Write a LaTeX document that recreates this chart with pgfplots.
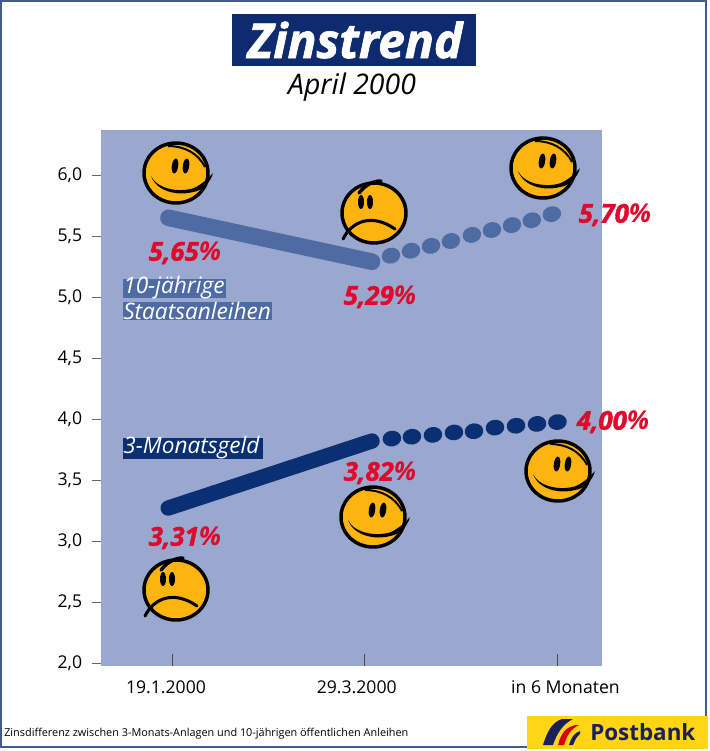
\documentclass[border=0pt]{standalone}
\usepackage{pgfplots}
\usepackage{fontspec}
\usepackage{graphicx}
\pgfplotsset{compat=1.18}
\setmainfont{Open Sans}
\newfontface\heavy[FakeBold=1.5]{Open Sans Bold Italic}
\newfontface\pct{Open Sans Bold Italic}
\definecolor{plotbg}{HTML}{9AA8CF}
\definecolor{lineA}{HTML}{4F6BA3}
\definecolor{lineB}{HTML}{0A2F72}
\definecolor{redlab}{HTML}{DF0A2C}
\definecolor{navy}{HTML}{0D2B6E}
\definecolor{sun}{HTML}{FDB40F}
\definecolor{framec}{HTML}{3F5C8C}
\definecolor{logoy}{HTML}{FFD514}
\definecolor{logon}{HTML}{1B1F5E}
\pgfdeclareplotmark{blob}{%
  \pgfpathellipse{\pgfpointorigin}{\pgfqpoint{7.0pt}{0pt}}{\pgfqpoint{0pt}{5.9pt}}%
  \pgfusepathqfill}
\newcommand{\fs}[1]{\fontsize{#1}{#1}\selectfont}
\newcommand{\faceoutline}{%
  \fill[sun] (0,0) ellipse (31 and 29);
  \draw[black,line width=2.6pt] (0,0) ellipse (32 and 30);
}
\newcommand{\smiley}[2]{\begin{scope}[shift={(#1,#2)},x=.75pt,y=.75pt]
  \faceoutline
  \draw[black,line width=1.5pt] (-8,27) .. controls (8,27) and (22,20) .. (29,6);
  \fill[black,rotate around={-8:(-1,7)}] (-1,7) ellipse (3.2 and 7.5);
  \fill[black,rotate around={-8:(10,7)}] (10,7) ellipse (3.2 and 7.5);
  \fill[black] (-25,-3) .. controls (-19,-16) and (3,-20) .. (18,-15)
     .. controls (26,-11) and (32,-6) .. (37,0)
     .. controls (34,-11) and (25,-18) .. (17,-19)
     .. controls (2,-23) and (-19,-19) .. (-25,-3) -- cycle;
  \end{scope}}
\newcommand{\frowny}[2]{\begin{scope}[shift={(#1,#2)},x=.75pt,y=.75pt]
  \faceoutline
  \draw[black,line width=2.6pt,line cap=round] (-15,20) .. controls (-8,29) and (0,32) .. (7,32);
  \fill[black] (-13,11) ellipse (3 and 7);
  \fill[black] (-4,11) ellipse (3 and 7);
  \draw[black,line width=2.3pt,line cap=round] (-31,-26) .. controls (-22,-8) and (-2,0) .. (21,-16);
  \end{scope}}
\newcommand{\val}[3]{\node[redlab,inner sep=0] at (#1,#2) {\heavy\fs{19.5}#3{\pct\%}};}
\begin{document}
\begin{tikzpicture}
\useasboundingbox (0,0) rectangle (532.5pt,-563.25pt);
\begin{axis}[
  at={(75.375pt,-499.5pt)},anchor=south west,
  scale only axis,width=376.1pt,height=402pt,
  xmin=-0.371,xmax=2.231,ymin=1.975,ymax=6.37,
  clip=false,
  axis background/.style={fill=plotbg},
  axis line style={draw=none},
  xtick={0,1,2},xticklabels={{19.1.2000\hspace*{9pt}},{29.3.2000\hspace*{12pt}},{\hspace*{12pt}in 6 Monaten}},
  ytick={2,2.5,3,3.5,4,4.5,5,5.5,6},
  yticklabels={{2,0},{2,5},{3,0},{3,5},{4,0},{4,5},{5,0},{5,5},{6,0}},
  xtick pos=lower,ytick pos=lower,
  xtick align=inside,ytick align=outside,
  x tick style={black!70,line width=.5pt,/pgfplots/major tick length=9pt},
  y tick style={black!60,line width=.5pt,/pgfplots/major tick length=6pt},
  tick label style={font=\fs{13.2},black},
  xticklabel style={yshift=-7.5pt},
  yticklabel style={xshift=-6pt},
]
\addplot[lineA,line width=12.5pt,line cap=round] coordinates {(-0.018,5.65) (1.038,5.29)};
\addplot[lineB,line width=11.5pt,line cap=round] coordinates {(-0.02,3.27) (1.038,3.82)};
\addplot[only marks,mark=blob,lineA,mark options={rotate=14,fill=lineA,draw=none}] coordinates {
 (1.136,5.34) (1.240,5.38) (1.344,5.42) (1.447,5.46) (1.556,5.51)
 (1.660,5.55) (1.764,5.59) (1.867,5.63) (1.971,5.68)};
\addplot[only marks,mark=blob,lineB,mark options={rotate=8,fill=lineB,draw=none}] coordinates {
 (1.141,3.84) (1.245,3.855) (1.354,3.87) (1.463,3.89) (1.567,3.90)
 (1.676,3.93) (1.785,3.945) (1.894,3.96) (2.0,3.975)};
\end{axis}
\begin{scope}[x=.75pt,y=-.75pt]
\draw[framec,line width=1pt] (1,1) rectangle (706,747);
\fill[navy] (232,14) rectangle (476,66);
\node[white,inner sep=0] at (355,40) {\heavy\fs{36}Zinstrend};
\node[black,inner sep=0] at (352,87) {\itshape\fs{21.3}April 2000};
\fill[lineA] (123,279) rectangle (226,298);
\fill[lineA] (123,302) rectangle (272,320);
\fill[lineB] (123,438) rectangle (263,459);
\node[white,inner sep=0,anchor=west] at (123,288) {\itshape\fs{17}10-jährige};
\node[white,inner sep=0,anchor=west] at (123,311) {\itshape\fs{17}Staatsanleihen};
\node[white,inner sep=0,anchor=west] at (123,448) {\itshape\fs{17}3-Monatsgeld};
\val{185}{253}{5,65}
\val{380}{297}{5,29}
\val{615}{215}{5,70}
\val{613}{422}{4,00}
\val{380}{473}{3,82}
\val{185}{538}{3,31}
\smiley{176}{173}
\frowny{374}{213}
\smiley{543}{168}
\smiley{373}{517}
\smiley{558}{471}
\frowny{176}{590}
\node[black,inner sep=0,anchor=west] at (4,734) {\resizebox{303pt}{!}{\fs{12}Zinsdifferenz zwischen 3-Monats-Anlagen und 10-jährigen öffentlichen Anleihen}};
\fill[logoy] (527,716) rectangle (708,749);
\fill[logon] (543,745) .. controls (547,732) and (552,722) .. (562,719) -- (573,719)
   .. controls (563,724) and (557,733) .. (553,745) -- cycle;
\fill[red!85!black] (558,745) .. controls (561,733) and (566,727) .. (576,725) -- (579,725)
   .. controls (571,729) and (567,735) .. (564,745) -- cycle;
\fill[logon] (569,745) .. controls (571,738) and (574,733) .. (580,731) -- (580,734)
   .. controls (577,736) and (575,740) .. (573,745) -- cycle;
\node[logon,inner sep=0,anchor=west] at (590,732) {\bfseries\fs{16.8}Postbank};
\end{scope}
\end{tikzpicture}
\end{document}
